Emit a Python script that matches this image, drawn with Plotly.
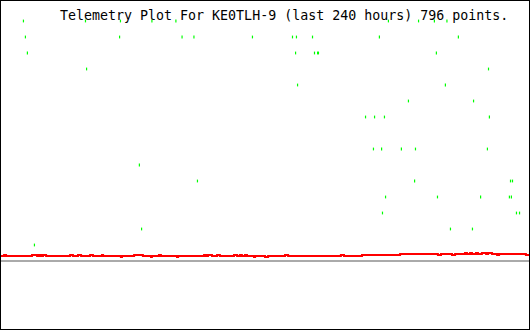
import plotly.graph_objects as go

# Time axis in hours (0 = 240 h ago, 240 = now); value axis in telemetry levels
title_text = "Telemetry Plot For KE0TLH-9 (last 240 hours) 796 points."

# Green telemetry samples (hours, level)
green_hours = [
    10.2, 38.4, 54.3, 68.6, 79.5, 176.1, 189.8, 197.0, 202.7,
    11.1, 53.9, 82.3, 87.7, 114.3, 132.5, 134.3, 141.6, 172.0, 207.9,
    12.0, 133.9, 142.5, 143.9, 144.3, 197.9,
    38.9, 221.6,
    134.8, 202.0,
    185.2, 214.8,
    165.7, 169.8, 174.3, 222.0,
    169.3, 173.0, 182.0, 188.4, 221.1,
    62.9,
    89.3, 188.0, 231.6, 232.5,
    174.8, 198.4, 218.0, 231.1, 232.0,
    173.4, 234.3, 235.7,
    63.9, 204.3, 214.3,
    15.2,
]
green_levels = (
    [15] * 9 + [14] * 10 + [13] * 6 + [12] * 2 + [11] * 2 + [10] * 2 +
    [9] * 4 + [7] * 5 + [6] * 1 + [5] * 4 + [4] * 5 + [3] * 3 + [2] * 3 + [1] * 1
)

# Red telemetry series (step breakpoints)
red_hours = [
    0.0, 1.4, 2.3, 14.1, 16.4, 17.3, 18.2, 19.1, 20.5, 31.4, 32.7, 35.0, 36.4,
    40.5, 41.8, 45.9, 46.4, 54.5, 55.0, 60.5, 64.5, 68.2, 68.6, 71.8, 72.7,
    80.0, 80.5, 92.3, 93.2, 94.1, 95.9, 98.2, 99.5, 105.9, 107.3, 108.6, 109.5,
    110.9, 111.8, 115.0, 115.5, 120.0, 121.4, 129.1, 130.5, 154.5, 155.9,
    164.1, 181.4, 198.6, 200.0, 205.0, 206.4, 210.9, 211.8, 213.2, 214.1,
    215.9, 216.8, 218.6, 220.5, 221.4, 223.2, 225.5, 226.4, 238.6, 240.0,
]
red_values = [
    0.31, 0.38, 0.31, 0.38, 0.31, 0.38, 0.31, 0.38, 0.31, 0.38, 0.31, 0.38, 0.31,
    0.38, 0.31, 0.38, 0.31, 0.25, 0.31, 0.38, 0.31, 0.25, 0.31, 0.38, 0.31,
    0.25, 0.31, 0.38, 0.31, 0.38, 0.31, 0.38, 0.31, 0.38, 0.31, 0.38, 0.31,
    0.38, 0.31, 0.25, 0.31, 0.25, 0.31, 0.38, 0.31, 0.38, 0.31,
    0.38, 0.44, 0.38, 0.44, 0.38, 0.44, 0.50, 0.44, 0.50, 0.44,
    0.50, 0.44, 0.50, 0.44, 0.50, 0.44, 0.38, 0.44, 0.38, 0.38,
]

baseline_value = 0.0

fig = go.Figure()
fig.add_trace(go.Scatter(
    x=red_hours, y=red_values, mode="lines",
    line=dict(color="#ff0000", width=2, shape="hv"),
    hoverinfo="skip",
))
fig.add_trace(go.Scatter(
    x=green_hours, y=green_levels, mode="markers",
    marker=dict(symbol="line-ns", size=2, color="#00ff00",
                line=dict(color="#00ff00", width=1.2)),
    hoverinfo="skip",
))

fig.add_shape(type="line", xref="paper", yref="y", x0=0, x1=1,
              y0=baseline_value, y1=baseline_value,
              line=dict(color="#aaaaaa", width=2), layer="below")

fig.add_annotation(
    text=title_text, xref="paper", yref="paper",
    x=0.108, y=0.985, xanchor="left", yanchor="top", showarrow=False,
    font=dict(family="DejaVu Sans Mono", size=13.3, color="#000000"),
)

fig.update_layout(
    width=530, height=330,
    margin=dict(l=1, r=1, t=1, b=1),
    paper_bgcolor="#000000", plot_bgcolor="#ffffff",
    showlegend=False,
    xaxis=dict(range=[0, 240], visible=False, fixedrange=True),
    yaxis=dict(range=[-4.25, 16.25], visible=False, fixedrange=True),
)

fig.write_html("out.html", config={"displayModeBar": False})
